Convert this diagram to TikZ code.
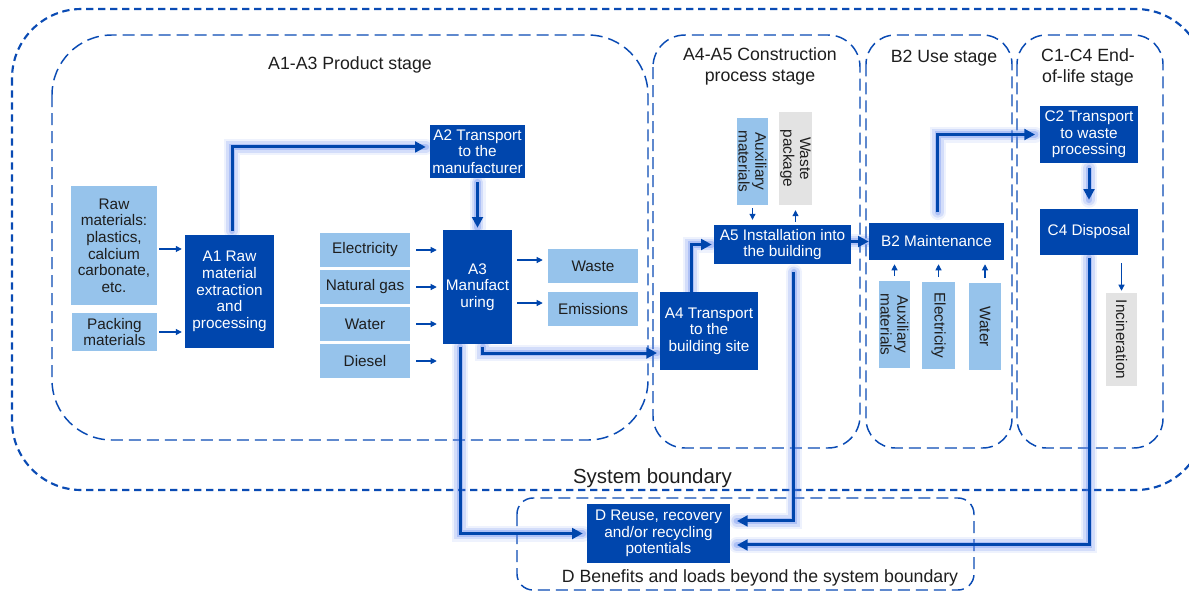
\documentclass[tikz,border=0pt]{standalone}
\usepackage{fontspec}
\setmainfont{Liberation Sans}
\usetikzlibrary{arrows.meta,calc,backgrounds}
\definecolor{dblue}{HTML}{0046AD}
\definecolor{lblue}{HTML}{96C3EB}
\definecolor{lgrey}{HTML}{E3E3E3}
\definecolor{dline}{HTML}{0A4BB4}
\definecolor{glowc}{HTML}{5A82F0}
\definecolor{txt}{HTML}{1E1E1E}
\tikzset{
  box/.style={inner sep=1pt, align=center, font=\fontsize{11.5}{12.5}\selectfont},
  dbox/.style={box, fill=dblue, text=white},
  lbox/.style={box, fill=lblue, text=txt},
  gbox/.style={box, fill=lgrey, text=txt},
  stagebox/.style={draw=dline, line width=1.1pt, dash pattern=on 9pt off 4.5pt},
  outerbox/.style={draw=dline, line width=1.6pt, dash pattern=on 5.5pt off 3.5pt},
  stagelbl/.style={inner sep=0pt, align=center, text=txt, font=\fontsize{13.3}{15.75}\selectfont},
  flow/.style={draw=dblue, line width=2.25pt, -{Triangle[length=8pt,width=8pt]},
    preaction={draw=glowc, line width=12pt, opacity=0.1, line cap=round, -},
    preaction={draw=glowc, line width=8.5pt, opacity=0.18, line cap=round, -},
    preaction={draw=glowc, line width=5pt, opacity=0.3, line cap=round, -}},
  thinarr/.style={draw=dblue, line width=0.8pt, -{Triangle[length=4.5pt,width=4.5pt]}}
}
\begin{document}
\begin{tikzpicture}[x=0.75pt,y=-0.75pt]
\useasboundingbox (0,0) rectangle (1189,593);

% boxes
\node[lbox, minimum width=64.5pt, minimum height=89.25pt] (raw) at (114,245.5) {Raw\\materials:\\plastics,\\calcium\\carbonate,\\etc.};
\node[lbox, minimum width=63.75pt, minimum height=28.5pt] (pack) at (114.5,332) {Packing\\materials};
\node[dbox, minimum width=66.75pt, minimum height=84.75pt] (a1) at (229.5,291.5) {A1 Raw\\material\\extraction\\and\\processing};
\node[dbox, minimum width=71.25pt, minimum height=39.75pt] (a2) at (477.5,151.5) {A2 Transport\\to the\\manufacturer};
\node[dbox, minimum width=51.75pt, minimum height=85.5pt] (a3) at (477.5,287) {A3\\Manufact\\uring};
\node[lbox, minimum width=67.5pt, minimum height=25.5pt] (elec) at (365,250) {Electricity};
\node[lbox, minimum width=67.5pt, minimum height=25.5pt] (gas) at (365,287) {Natural gas};
\node[lbox, minimum width=67.5pt, minimum height=25.5pt] (water) at (365,324) {Water};
\node[lbox, minimum width=67.5pt, minimum height=25.5pt] (diesel) at (365,361) {Diesel};
\node[lbox, minimum width=67.5pt, minimum height=25.5pt] (waste) at (593,266) {Waste};
\node[lbox, minimum width=67.5pt, minimum height=25.5pt] (emis) at (593,309) {Emissions};
\node[dbox, minimum width=73.5pt, minimum height=58.5pt] (a4) at (709,331) {A4 Transport\\to the\\building site};
\node[dbox, minimum width=102.75pt, minimum height=29.25pt] (a5) at (782.5,244.5) {A5 Installation into\\the building};
\node[lbox, rotate=-90, minimum width=65.25pt, minimum height=23.25pt] (aux5) at (752.5,161.5) {Auxiliary\\materials};
\node[gbox, rotate=-90, minimum width=69.75pt, minimum height=23.25pt] (wpack) at (795.5,158.5) {Waste\\package};
\node[dbox, minimum width=101.25pt, minimum height=27.75pt] (b2) at (936.5,241.5) {B2 Maintenance};
\node[lbox, rotate=-90, minimum width=65.25pt, minimum height=23.25pt] (aux2) at (894.5,324.5) {Auxiliary\\materials};
\node[lbox, rotate=-90, minimum width=65.25pt, minimum height=24.75pt] (elec2) at (938.5,325.5) {Electricity};
\node[lbox, rotate=-90, minimum width=65.25pt, minimum height=24pt] (water2) at (985,326.5) {Water};
\node[dbox, minimum width=73.5pt, minimum height=42.75pt] (c2) at (1089,134.5) {C2 Transport\\to waste\\processing};
\node[dbox, minimum width=73.5pt, minimum height=34.5pt] (c4) at (1089,232) {C4 Disposal};
\node[gbox, rotate=-90, minimum width=69.75pt, minimum height=23.25pt] (incin) at (1121.5,339.5) {Incineration};
\node[dbox, minimum width=107.25pt, minimum height=44.25pt] (d) at (658.5,533.5) {D Reuse, recovery\\and/or recycling\\potentials};

% labels
\node[stagelbl] (lA) at (350,64.5) {A1-A3 Product stage};
\node[stagelbl] (lAB) at (760,66) {A4-A5 Construction\\process stage};
\node[stagelbl] (lB) at (944,58) {B2 Use stage};
\node[stagelbl] (lC) at (1088,67.5) {C1-C4 End-\\of-life stage};
\node[stagelbl, font=\fontsize{15.3}{18}\selectfont] (lS) at (652.5,478.5) {System boundary};
\node[stagelbl] (lD) at (760,578) {D Benefits and loads beyond the system boundary};

% thin arrows
\draw[thinarr, shorten <=1.5pt, shorten >=2.2pt] ([yshift=-2.6pt]raw.east) -- ([yshift=-2.6pt]raw.east -| a1.west);
\draw[thinarr, shorten <=1.5pt, shorten >=2.2pt] (pack.east) -- (pack.east -| a1.west);
\foreach \n in {elec,gas,water,diesel}
  \draw[thinarr, shorten <=4.5pt, shorten >=4.5pt] (\n.east) -- (\n.east -| a3.west);
\draw[thinarr, shorten <=3.75pt, shorten >=3.75pt] ([yshift=4.5pt]waste.west -| a3.east) -- ([yshift=4.5pt]waste.west);
\draw[thinarr, shorten <=3.75pt, shorten >=3.75pt] ([yshift=4.5pt]emis.west -| a3.east) -- ([yshift=4.5pt]emis.west);
\draw[thinarr, shorten <=2.2pt, shorten >=3.7pt] (aux5.east) -- (aux5.east |- a5.north);
\draw[thinarr, shorten <=2.2pt, shorten >=3.7pt] (wpack.east |- a5.north) -- (wpack.east);
\foreach \n in {aux2,elec2,water2}
  \draw[thinarr, shorten <=3.5pt, shorten >=3pt] (\n.west) -- (\n.west |- b2.south);
\draw[thinarr, shorten <=6pt, shorten >=1.5pt] (c4.south -| incin.west) -- (incin.west);

\begin{pgfonlayer}{background}
\fill[white] (0,0) rectangle (1189,593);
\draw[outerbox, rounded corners=52pt] (12,9) rectangle (1205,490);
\draw[stagebox, rounded corners=45pt] (52,35) rectangle (648,440);
\draw[stagebox, rounded corners=24pt] (653,35) rectangle (860,448);
\draw[stagebox, rounded corners=22pt] (866,35) rectangle (1012,448);
\draw[stagebox, rounded corners=22pt] (1017,35) rectangle (1163,448);
\draw[stagebox, rounded corners=12pt] (517,498) rectangle (974,590);

% thick flows
\draw[flow, shorten <=3pt, shorten >=3pt] ([xshift=1.9pt]a1.north) |- ([yshift=3.4pt]a2.west);
\draw[flow, shorten <=3pt, shorten >=1.5pt] (a2.south) -- (a3.north);
\draw[flow, shorten <=2pt, shorten >=2pt] ([xshift=4.1pt]a3.south) |- ([yshift=-16.5pt]a4.west);
\draw[flow, shorten <=2pt, shorten >=3pt] ([xshift=-13.1pt]a3.south) |- (d.west);
\draw[flow, shorten >=1.5pt] ([xshift=-13.5pt]a4.north) |- (a5.west);
\draw[flow] (a5.east |- b2.west) -- (b2.west);
\draw[flow, shorten <=6pt, shorten >=5pt] ([xshift=8.6pt]a5.south) |- ([yshift=9.4pt]d.east);
\draw[flow, shorten <=8pt, shorten >=3.5pt] ([xshift=1.1pt]b2.north) |- (c2.west);
\draw[flow, shorten <=3.7pt, shorten >=6.7pt] (c2.south) -- (c4.north);
\draw[flow, shorten <=2pt, shorten >=5pt] (c4.south) |- ([yshift=-8.6pt]d.east);
\end{pgfonlayer}
\end{tikzpicture}
\end{document}
